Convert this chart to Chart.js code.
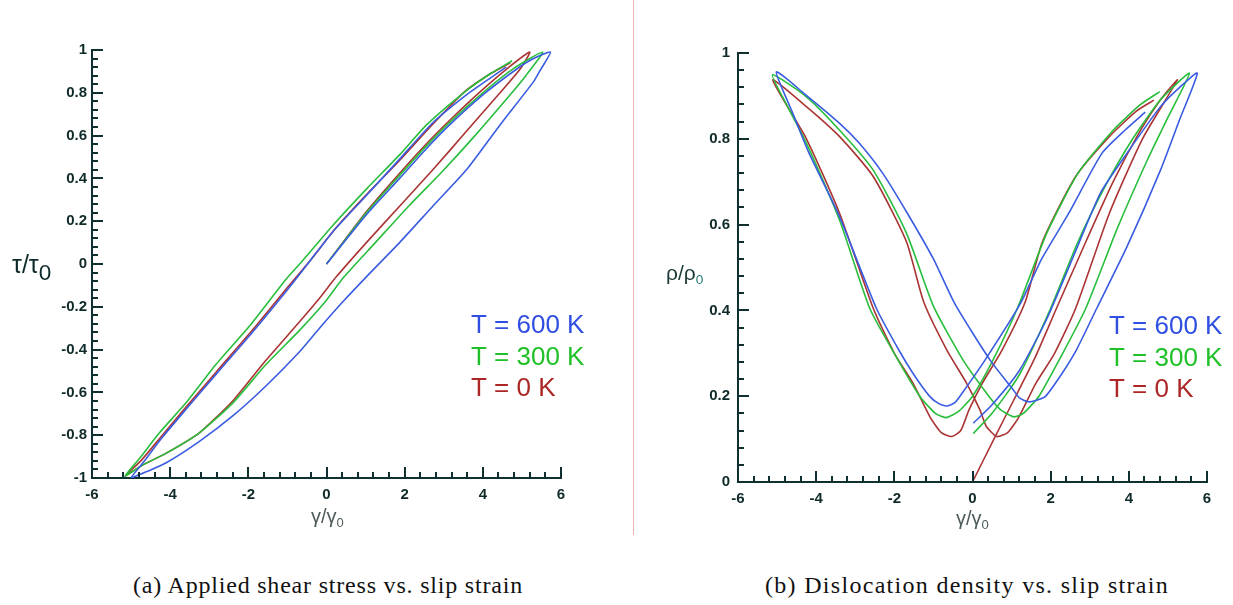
<html>

<head>
    <meta charset="utf-8">
    <title>Shear stress and dislocation density vs. slip strain</title>
    <script src="https://cdn.jsdelivr.net/npm/chart.js@4.4.1/dist/chart.umd.min.js"></script>
    <style>
        body {
            margin: 0;
            background: #fff;
            width: 1233px;
            height: 605px;
            position: relative;
            overflow: hidden;
            font-family: "Liberation Sans", Arial, sans-serif;
        }

        canvas {
            position: absolute;
            top: 0;
        }

        .lbl {
            position: absolute;
            white-space: nowrap;
            line-height: 1;
        }

        .lbl sub {
            vertical-align: baseline;
            position: relative;
            top: 0.3em;
        }

        .cap {
            position: absolute;
            top: 572px;
            font-family: "Liberation Serif", "DejaVu Serif", serif;
            font-size: 24px;
            color: #111;
            white-space: nowrap;
        }

        #sep {
            position: absolute;
            left: 633px;
            top: 0;
            width: 1px;
            height: 535px;
            background: #eab0b5;
        }
    </style>
</head>

<body>
    <canvas id="stressChart" width="634" height="540" style="left:0"></canvas>
    <canvas id="densityChart" width="599" height="540" style="left:634px"></canvas>
    <div id="sep"></div>

    <div class="lbl" style="left:12px;top:252px;font-size:25px;color:#0e2a2a">τ/τ<sub style="font-size:0.9em">0</sub></div>
    <div class="lbl" style="left:311px;top:506px;font-size:20px;color:#4e5c5c">γ/γ<sub style="font-size:0.65em">0</sub></div>
    <div class="lbl" style="left:666px;top:262px;font-size:21px;color:#1d3a3a">ρ/ρ<sub style="font-size:0.65em;color:#2a7a7a">0</sub></div>
    <div class="lbl" style="left:956px;top:508px;font-size:20px;color:#4e5c5c">γ/γ<sub style="font-size:0.65em">0</sub></div>

    <div class="cap" style="left:133px;letter-spacing:0.8px">(a) Applied shear stress vs. slip strain</div>
    <div class="cap" style="left:765px;letter-spacing:1.3px">(b) Dislocation density vs. slip strain</div>

    <script>
        // legend labels, one per temperature
        var temps = ['T = 600 K', 'T = 300 K', 'T = 0 K'];

        // (a) tau/tau0 vs gamma/gamma0 : initial loading -> unloading -> reloading
        var stressX600 = [0, 1.02, 1.87, 2.56, 3.15, 4.0, 4.86, 5.3, 5.73,
            5.45, 5.29, 4.44, 3.58, 2.72, 1.87, 1.02, 0.4, -0.18, -0.69, -1.55, -2.4, -3.26, -4.11, -4.6, -5.0,
            -4.7, -4.2, -3.6, -2.8, -1.9, -1.0, -0.4, 0.16, 1.02, 1.87, 2.72, 3.58, 4.2, 4.6];
        var stressY600 = [0, 0.23, 0.40, 0.54, 0.65, 0.79, 0.91, 0.96, 0.99,
            0.90, 0.85, 0.65, 0.44, 0.27, 0.10, -0.06, -0.18, -0.30, -0.41, -0.57, -0.71, -0.83, -0.93, -0.97, -1.0,
            -0.93, -0.81, -0.68, -0.51, -0.32, -0.12, 0.02, 0.15, 0.32, 0.49, 0.66, 0.79, 0.87, 0.92];

        var stressX300 = [0, 1.0, 1.9, 2.6, 3.2, 4.0, 4.8, 5.53,
            5.1, 4.65, 3.8, 2.95, 2.1, 1.25, 0.45, -0.05, -0.69, -1.55, -2.4, -3.26, -4.11, -4.71, -5.15,
            -4.79, -4.28, -3.6, -2.83, -1.97, -1.03, -0.59, 0.16, 1.02, 1.87, 2.56, 3.58, 4.2, 4.75];
        var stressY300 = [0, 0.235, 0.42, 0.56, 0.67, 0.80, 0.915, 0.99,
            0.88, 0.78, 0.60, 0.43, 0.27, 0.10, -0.06, -0.18, -0.31, -0.47, -0.65, -0.79, -0.885, -0.94, -0.99,
            -0.91, -0.79, -0.65, -0.47, -0.29, -0.07, 0.02, 0.18, 0.35, 0.51, 0.65, 0.81, 0.89, 0.95];

        var stressX0 = [0, 1.0, 1.9, 2.6, 3.2, 3.9, 4.6, 5.2,
            4.95, 4.44, 3.58, 2.72, 1.87, 1.02, 0.25, -0.18, -0.69, -1.55, -2.4, -3.26, -4.11, -4.71, -5.15,
            -4.75, -4.2, -3.6, -2.8, -1.9, -1.0, -0.4, 0.2, 1.0, 1.9, 2.6, 3.5, 4.2, 4.7];
        var stressY0 = [0, 0.24, 0.43, 0.57, 0.68, 0.80, 0.91, 0.99,
            0.91, 0.80, 0.62, 0.44, 0.27, 0.10, -0.06, -0.16, -0.27, -0.45, -0.64, -0.79, -0.885, -0.94, -0.99,
            -0.92, -0.80, -0.67, -0.50, -0.31, -0.11, 0.02, 0.16, 0.32, 0.49, 0.63, 0.80, 0.89, 0.94];

        // (b) rho/rho0 vs gamma/gamma0
        var densX600 = [0.02, 0.5, 1.2, 1.9, 2.6, 3.27, 3.95, 4.81, 5.3, 5.75,
            5.3, 4.81, 3.95, 3.18, 2.67, 2.29, 1.86, 1.62, 1.43, 1.2,
            1.05, 0.45, -0.45, -1.0, -1.69, -2.3, -2.9, -3.4, -4.3, -5.02,
            -4.6, -4.2, -3.4, -2.46, -1.9, -1.52, -1.09, -0.85, -0.66,
            -0.45, -0.28, 0.32, 1.22, 1.77, 2.46, 3.31, 3.9, 4.42];
        var densY600 = [0.137, 0.18, 0.26, 0.38, 0.53, 0.673, 0.766, 0.875, 0.92, 0.953,
            0.845, 0.727, 0.548, 0.405, 0.31, 0.253, 0.199, 0.19, 0.187, 0.196,
            0.214, 0.284, 0.415, 0.52, 0.63, 0.72, 0.79, 0.836, 0.905, 0.956,
            0.86, 0.77, 0.618, 0.405, 0.31, 0.253, 0.199, 0.182, 0.177,
            0.185, 0.205, 0.284, 0.415, 0.52, 0.626, 0.766, 0.82, 0.862];

        var densX300 = [0.02, 0.5, 1.2, 2.0, 2.7, 3.4, 4.1, 4.8, 5.55,
            5.0, 4.47, 3.7, 2.9, 2.25, 1.7, 1.3, 1.05,
            0.7, 0.36, -0.24, -1.0, -1.69, -2.54, -3.4, -4.25, -5.12,
            -4.7, -4.25, -3.4, -2.63, -1.94, -1.35, -0.95, -0.68,
            -0.35, 0.0, 0.5, 1.15, 1.9, 2.7, 3.6, 4.3, 4.79];
        var densY300 = [0.113, 0.16, 0.25, 0.405, 0.56, 0.69, 0.80, 0.89, 0.953,
            0.85, 0.75, 0.59, 0.405, 0.29, 0.20, 0.16, 0.152,
            0.17, 0.207, 0.284, 0.41, 0.58, 0.727, 0.82, 0.898, 0.949,
            0.87, 0.79, 0.61, 0.405, 0.29, 0.20, 0.16, 0.15,
            0.165, 0.2, 0.28, 0.405, 0.58, 0.72, 0.82, 0.88, 0.91];

        var densX0 = [0, 0.58, 1.05, 1.6, 2.15, 2.9, 3.6, 4.3, 4.8, 5.24,
            4.35, 3.5, 2.64, 2.1, 1.62, 1.19, 0.9, 0.62,
            0.35, 0.19, -0.15, -0.66, -1.25, -1.69, -2.54, -3.4, -4.25, -5.11,
            -4.25, -3.4, -2.54, -2.0, -1.52, -1.09, -0.8, -0.53,
            -0.3, -0.09, 0.25, 0.76, 1.35, 1.79, 2.64, 3.5, 4.2, 4.64];
        var densY0 = [0, 0.106, 0.19, 0.29, 0.405, 0.56, 0.70, 0.82, 0.89, 0.937,
            0.80, 0.626, 0.405, 0.3, 0.23, 0.152, 0.115, 0.106,
            0.13, 0.168, 0.23, 0.308, 0.42, 0.56, 0.712, 0.805, 0.875, 0.937,
            0.80, 0.626, 0.405, 0.3, 0.23, 0.152, 0.115, 0.106,
            0.12, 0.168, 0.23, 0.308, 0.42, 0.56, 0.712, 0.805, 0.865, 0.89];

        var lineColors = ['rgb(58, 92, 225)', 'rgb(40, 190, 60)', 'rgb(170, 52, 52)'];
        var textColors = ['rgb(48, 78, 225)', 'rgb(32, 192, 40)', 'rgb(172, 38, 38)'];
        var axisColor = '#0f3030';

        Chart.defaults.font.family = '"Liberation Sans", Arial, sans-serif';
        Chart.defaults.color = '#102a2a';

        function toPoints(xs, ys) {
            return xs.map(function (x, i) { return { x: x, y: ys[i] }; });
        }

        function makeSets(pairs) {
            return pairs.map(function (p, i) {
                return {
                    label: temps[i],
                    data: toPoints(p[0], p[1]),
                    showLine: true,
                    borderColor: lineColors[i],
                    borderWidth: 1.6,
                    pointRadius: 0,
                    tension: 0.2,
                    fill: false
                };
            });
        }

        // tick marks drawn inside the plot area (major every 5th)
        function drawInsideTicks(chart) {
            var ctx = chart.ctx, a = chart.chartArea, xs = chart.scales.x, ys = chart.scales.y;
            var i, v, p, len;
            ctx.save();
            ctx.strokeStyle = axisColor;
            ctx.lineWidth = 2;
            ctx.beginPath();
            for (i = 0; i <= 30; i++) {
                v = xs.min + i * (xs.max - xs.min) / 30;
                p = Math.round(xs.getPixelForValue(v));
                len = (i % 5 == 0) ? 11 : 6;
                ctx.moveTo(p, a.bottom);
                ctx.lineTo(p, a.bottom - len);
            }
            for (i = 0; i <= 25 * (ys.max - ys.min); i++) {
                v = ys.min + i * 0.04;
                p = Math.round(ys.getPixelForValue(v));
                len = (i % 5 == 0) ? 11 : 6;
                ctx.moveTo(a.left, p);
                ctx.lineTo(a.left + len, p);
            }
            ctx.stroke();
            ctx.restore();
        }

        var tempLegend = {
            id: 'tempLegend',
            afterDraw(chart, args, opts) {
                drawInsideTicks(chart);
                var ctx = chart.ctx;
                ctx.save();
                ctx.font = opts.font;
                ctx.textBaseline = 'middle';
                chart.data.datasets.forEach(function (ds, i) {
                    ctx.fillStyle = textColors[i];
                    ctx.fillText(ds.label, opts.x, opts.y + i * opts.lineHeight);
                });
                ctx.restore();
            }
        };

        function fmt(v) {
            return String(Math.round(v * 10) / 10);
        }

        function makeConfig(sets, yMin, yMax, box) {
            return {
                type: 'scatter',
                data: { datasets: sets },
                options: {
                    responsive: false,
                    animation: false,
                    layout: { padding: { left: 0, top: box.top, right: box.right, bottom: 0 } },
                    plugins: {
                        legend: { display: false },
                        tooltip: { enabled: false },
                        tempLegend: { x: box.legX, y: box.legY, lineHeight: 31.5, font: '26px "Liberation Sans", Arial, sans-serif' }
                    },
                    scales: {
                        x: {
                            type: 'linear',
                            min: -6,
                            max: 6,
                            grid: { display: false, drawTicks: false },
                            border: { display: true, color: axisColor, width: 2 },
                            ticks: { stepSize: 2, padding: 8, font: { size: 15, weight: 'bold' }, callback: fmt },
                            afterFit: function (s) { s.height = box.xh; }
                        },
                        y: {
                            type: 'linear',
                            min: yMin,
                            max: yMax,
                            grid: { display: false, drawTicks: false },
                            border: { display: true, color: axisColor, width: 2 },
                            ticks: { stepSize: 0.2, padding: box.ypad, font: { size: 15, weight: 'bold' }, callback: fmt },
                            afterFit: function (s) { s.width = box.yw; }
                        }
                    }
                },
                plugins: [tempLegend]
            };
        }

        var stressChart = new Chart(document.getElementById('stressChart'), makeConfig(
            makeSets([[stressX600, stressY600], [stressX300, stressY300], [stressX0, stressY0]]),
            -1, 1,
            { top: 50, right: 73, xh: 62, yw: 92, ypad: 5, legX: 471, legY: 326 }
        ));

        var densityChart = new Chart(document.getElementById('densityChart'), makeConfig(
            makeSets([[densX600, densY600], [densX300, densY300], [densX0, densY0]]),
            0, 1,
            { top: 53, right: 26, xh: 58, yw: 104, ypad: 8, legX: 475, legY: 327 }
        ));
    </script>
</body>

</html>
